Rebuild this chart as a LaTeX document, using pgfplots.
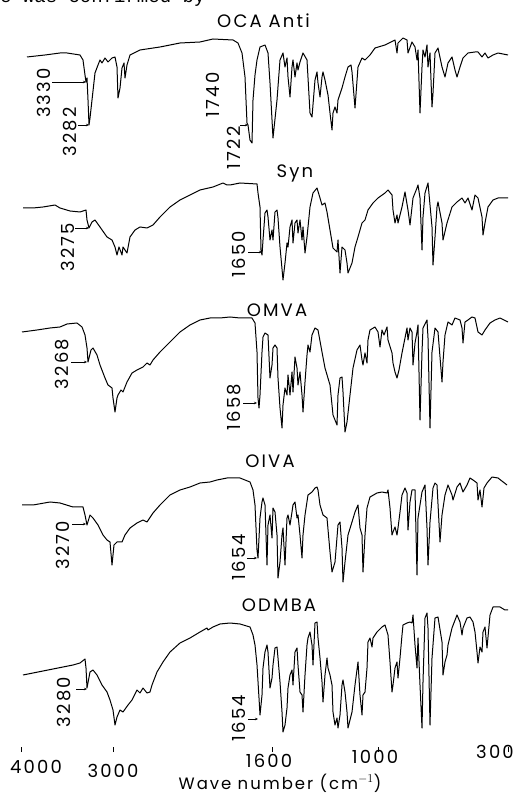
\documentclass[border=0pt]{standalone}
\usepackage{fontspec}
\setmainfont{Poppins}
\newfontfamily\lab[LetterSpace=12]{Poppins}
\newfontfamily\typew{Liberation Mono}
\usepackage{pgfplots}
\pgfplotsset{compat=1.18}
\usetikzlibrary{arrows.meta}
\pgfplotsset{spec/.style={black, line width=1pt, line join=round, mark=none}}
\begin{document}
\begin{tikzpicture}
\begin{axis}[
  scale only axis, width=513pt, height=752pt,
  xmin=0, xmax=513, ymin=43, ymax=795,
  y filter/.expression={795-y},
  clip=false, axis line style={draw=none}, hide y axis,
  xtick={21,113,272,378,508}, xticklabels={},
  xtick pos=bottom, tick align=inside, major tick length=5pt,
  xtick style={black, line width=0.8pt},
]
% OCA Anti
\addplot[spec] coordinates {(27,57) (45,55) (60,53) (67,53) (80,55) (83,60) (85,75) (86,82) (87,78) (88,100) (89,125) (90,118) (92,100) (95,73) (98,65) (100,60) (102,63) (105,58) (108,62) (112,58) (115,57) (117,67) (118,98) (120,88) (122,68) (124,63) (125,78) (127,65) (130,55) (140,50) (160,47) (180,43) (200,42) (213,39) (233,40) (238,43) (242,53) (245,77) (247,123) (248,125) (250,140) (252,143) (253,100) (255,75) (257,60) (260,47) (265,45) (268,53) (270,83) (273,138) (277,100) (280,60) (283,53) (285,67) (287,58) (288,77) (290,97) (292,67) (293,60) (295,77) (297,63) (298,70) (300,62) (303,53) (307,60) (310,113) (312,117) (315,80) (317,72) (318,83) (320,97) (322,77) (323,72) (325,80) (327,90) (328,95) (330,113) (332,130) (333,113) (335,107) (337,113) (338,100) (342,88) (345,77) (348,67) (351,65) (352,72) (355,108) (358,67) (362,58) (365,60) (370,55) (375,48) (385,45) (395,40) (397,53) (398,43) (403,38) (407,40) (408,53) (412,42) (415,47) (417,60) (418,50) (420,113) (422,67) (423,50) (425,57) (427,45) (428,67) (430,53) (432,107) (433,93) (435,53) (438,48) (442,67) (445,77) (448,63) (452,57) (455,70) (457,77) (460,67) (463,58) (468,53) (475,52) (478,52) (482,57) (485,53) (488,58) (493,55) (498,53) (508,55)};
% Syn
\addplot[spec] coordinates {(23,208) (33,208) (43,207) (55,205) (60,208) (70,211) (80,212) (86,210) (87,220) (89,228) (92,222) (95,220) (100,227) (107,237) (112,240) (115,247) (117,255) (119,247) (122,255) (123,247) (127,253) (130,237) (135,230) (140,227) (147,228) (153,225) (160,217) (170,207) (180,200) (190,195) (200,190) (213,187) (223,183) (227,185) (230,185) (240,183) (257,184) (258,193) (260,207) (261,250) (262,255) (263,240) (265,213) (267,210) (268,217) (270,240) (272,230) (273,240) (275,212) (277,210) (278,218) (280,247) (283,280) (285,263) (287,243) (288,247) (290,227) (292,220) (293,243) (295,223) (297,220) (298,233) (300,220) (302,240) (303,227) (305,253) (307,237) (310,207) (313,193) (317,188) (320,198) (322,205) (325,203) (327,212) (330,230) (333,248) (337,252) (338,240) (340,273) (342,247) (345,250) (347,263) (348,273) (352,263) (355,247) (358,237) (362,223) (365,220) (368,210) (373,203) (378,198) (385,193) (388,190) (392,195) (393,210) (395,223) (397,215) (398,223) (402,207) (405,192) (408,210) (410,225) (413,198) (417,188) (418,185) (420,198) (422,250) (423,217) (425,193) (428,183) (432,227) (433,265) (435,237) (437,207) (438,202) (442,223) (443,240) (447,223) (452,207) (457,202) (462,198) (465,203) (468,198) (472,210) (475,195) (478,198) (482,217) (483,235) (485,223) (488,207) (493,200) (498,198) (508,198)};
% OMVA
\addplot[spec] coordinates {(22,332) (37,330) (50,328) (60,327) (67,324) (77,323) (82,327) (85,335) (87,348) (88,362) (91,350) (93,348) (97,355) (100,365) (105,378) (108,385) (112,388) (113,398) (115,412) (117,398) (118,395) (121,390) (123,392) (127,382) (132,373) (137,370) (143,367) (147,363) (150,365) (153,360) (160,352) (170,342) (180,332) (190,325) (200,320) (210,318) (220,318) (230,317) (240,318) (252,318) (255,323) (257,352) (258,398) (259,408) (260,395) (262,352) (263,337) (265,333) (268,335) (270,378) (272,365) (273,348) (275,345) (277,348) (278,378) (280,408) (282,428) (283,405) (285,388) (287,395) (288,375) (290,395) (292,372) (293,392) (295,357) (297,368) (298,385) (300,372) (302,395) (303,412) (305,382) (307,355) (308,345) (310,352) (312,335) (315,328) (318,330) (322,352) (325,368) (330,385) (333,415) (337,425) (338,395) (340,378) (342,377) (343,392) (345,432) (347,422) (350,395) (353,368) (357,350) (360,345) (362,360) (363,365) (365,353) (367,363) (368,340) (370,330) (375,327) (378,332) (380,347) (382,330) (384,335) (387,327) (388,340) (392,353) (393,363) (395,372) (397,378) (399,370) (402,353) (405,338) (407,328) (408,340) (410,328) (412,332) (413,365) (415,343) (417,332) (418,325) (420,420) (422,352) (423,328) (427,320) (428,338) (430,428) (432,352) (435,328) (438,332) (442,382) (443,362) (445,335) (448,322) (452,325) (455,318) (460,320) (462,328) (463,343) (465,322) (468,320) (472,317) (475,318) (478,332) (482,335) (485,330) (490,323) (495,320) (500,318) (508,322)};
% OIVA
\addplot[spec] coordinates {(22,505) (33,505) (50,502) (60,503) (73,507) (83,507) (85,515) (87,525) (90,515) (93,518) (98,525) (103,535) (107,540) (110,542) (112,565) (114,545) (117,542) (122,542) (125,535) (130,528) (137,523) (143,520) (147,522) (153,513) (160,505) (170,495) (180,490) (190,487) (200,483) (210,482) (217,480) (227,478) (240,478) (250,482) (253,490) (255,505) (257,550) (258,558) (260,518) (262,502) (263,498) (265,505) (267,565) (268,525) (270,515) (272,538) (273,508) (275,512) (277,535) (278,578) (280,562) (282,535) (283,528) (285,565) (287,518) (288,515) (290,525) (292,512) (293,505) (295,502) (297,518) (298,515) (300,535) (302,558) (303,535) (305,515) (308,495) (312,492) (315,488) (317,487) (318,490) (320,505) (323,515) (327,518) (330,552) (332,572) (335,562) (338,525) (340,522) (342,548) (343,582) (345,562) (348,535) (352,522) (355,512) (358,505) (360,528) (362,535) (363,572) (365,535) (367,508) (370,497) (377,493) (382,492) (387,493) (388,490) (390,508) (392,535) (393,532) (395,527) (397,535) (398,528) (400,512) (402,495) (405,488) (407,493) (408,530) (410,502) (412,490) (415,490) (417,575) (418,518) (422,492) (425,485) (427,528) (428,565) (430,522) (433,488) (435,483) (437,485) (440,542) (442,515) (445,495) (448,485) (452,495) (453,500) (457,487) (460,483) (463,492) (467,485) (470,478) (473,480) (477,483) (478,500) (480,490) (482,507) (484,488) (487,483) (492,477) (498,478) (507,485)};
% ODMBA
\addplot[spec] coordinates {(23,675) (33,673) (43,671) (53,669) (63,667) (73,665) (80,663) (85,659) (86,668) (87,688) (90,672) (93,670) (97,675) (102,685) (107,692) (110,700) (113,710) (115,725) (117,717) (120,710) (123,712) (128,705) (132,700) (137,690) (140,693) (143,688) (147,693) (150,692) (152,685) (157,672) (163,662) (170,652) (180,643) (190,638) (200,632) (207,628) (208,630) (213,627) (220,624) (230,623) (240,624) (250,627) (253,635) (255,645) (257,665) (259,698) (260,715) (262,695) (263,668) (265,652) (267,645) (268,652) (270,688) (272,678) (273,665) (275,648) (277,647) (278,658) (280,682) (282,712) (283,732) (285,725) (287,708) (288,688) (290,675) (292,670) (293,685) (295,652) (297,648) (298,665) (300,692) (302,695) (303,712) (305,675) (307,645) (308,638) (310,632) (312,645) (313,665) (315,623) (317,622) (318,638) (320,658) (322,682) (323,702) (325,675) (327,658) (328,668) (330,675) (332,685) (333,712) (335,725) (337,718) (338,728) (340,715) (342,685) (343,680) (345,692) (347,712) (348,728) (352,712) (355,685) (358,662) (360,695) (362,715) (363,695) (365,692) (367,668) (368,642) (370,638) (372,647) (373,638) (377,632) (382,627) (385,625) (388,635) (390,662) (392,692) (393,685) (395,668) (397,662) (398,678) (400,658) (402,635) (403,625) (407,623) (410,622) (412,623) (413,615) (415,645) (417,668) (418,638) (420,685) (422,728) (423,682) (425,618) (427,613) (428,628) (430,725) (432,658) (435,618) (438,617) (442,642) (443,675) (445,662) (447,655) (448,645) (452,628) (457,615) (460,622) (462,635) (463,628) (467,618) (470,617) (473,622) (475,632) (477,652) (478,663) (480,647) (482,652) (483,632) (485,627) (487,648) (490,615) (493,607) (500,607) (505,610) (508,610)};

% titles
\begin{scope}[every node/.style={font=\lab\fontsize{18}{18}\selectfont, inner sep=0pt}]
\node at (axis cs:263.5,774) {OCA Anti};
\node at (axis cs:295,621.5) {Syn};
\node at (axis cs:277,485) {OMVA};
\node at (axis cs:270,334) {OIVA};
\node at (axis cs:279,190) {ODMBA};
\node[anchor=base] at (axis cs:36,22) {4000};
\node[anchor=base] at (axis cs:113,18) {3000};
\node[anchor=base] at (axis cs:269,28) {1600};
\node[anchor=base] at (axis cs:375,32) {1000};
\node[anchor=base] at (axis cs:495,37) {300};
\end{scope}
\node[inner sep=0pt, anchor=base, font=\lab\fontsize{16.5}{16.5}\selectfont] at (axis cs:280,6) {Wave number (cm$^{-1}$)};
% peak labels
\begin{scope}[every node/.style={font=\lab\fontsize{18}{18}\selectfont, inner sep=0pt, rotate=90}]
\node at (axis cs:43.5,702) {3330};
\node at (axis cs:70,663) {3282};
\node at (axis cs:213,700) {1740};
\node at (axis cs:234,647) {1722};
\node at (axis cs:67.5,548) {3275};
\node at (axis cs:238.5,541) {1650};
\node at (axis cs:62.5,431) {3268};
\node at (axis cs:234.5,388) {1658};
\node at (axis cs:62.5,250) {3270};
\node at (axis cs:238.5,238) {1654};
\node at (axis cs:64.5,93) {3280};
\node at (axis cs:238.5,77) {1654};
\end{scope}
\begin{scope}[line width=0.8pt, -{Stealth[length=3pt,width=2.5pt]}]
\draw (axis cs:52,713) -- (axis cs:86,713);
\draw (axis cs:78,670) -- (axis cs:89,670);
\draw (axis cs:240,670) -- (axis cs:248,670);
\draw (axis cs:75,567) -- (axis cs:89,567);
\draw (axis cs:248,543) -- (axis cs:262,543);
\draw (axis cs:71,433) -- (axis cs:87,433);
\draw (axis cs:243,392) -- (axis cs:257,392);
\draw (axis cs:72,271) -- (axis cs:86,271);
\draw (axis cs:247,237) -- (axis cs:257,237);
\draw (axis cs:76,106) -- (axis cs:87,106);
\draw (axis cs:248,76) -- (axis cs:258,76);
\end{scope}
\node[anchor=base west, inner sep=0pt, font=\typew\fontsize{19}{19}\selectfont] at (axis cs:0,792) {e was confirmed by};
\coordinate (bl) at (axis cs:0,0);
\coordinate (tr) at (axis cs:513,795);
\end{axis}
\pgfresetboundingbox
\path[use as bounding box] (bl) rectangle (tr);
\end{tikzpicture}
\end{document}
